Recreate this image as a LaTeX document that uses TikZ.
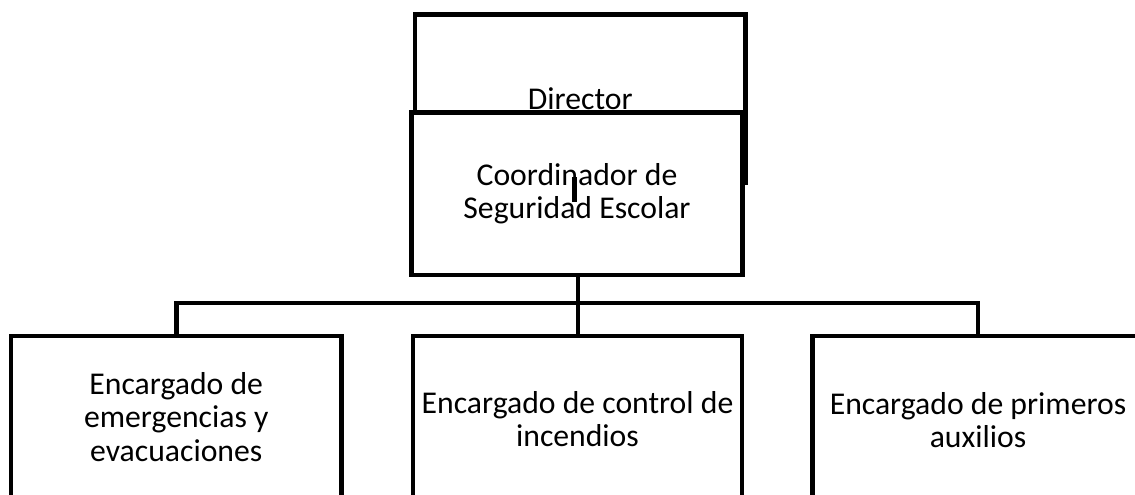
\documentclass[tikz,border=0pt]{standalone}
\usepackage{fontspec}
\setmainfont{Carlito}
\begin{document}
\begin{tikzpicture}[x=1pt,y=-1pt,
  box/.style={draw=black,line width=4.6pt,fill=white,rectangle,inner sep=0pt,align=center,
    font=\fontsize{31.7}{33.5}\selectfont},
  conn/.style={draw=black,line width=4.6pt}]
\useasboundingbox (0,0) rectangle (1135,495);
\clip (0,0) rectangle (1135,495);
\fill[white] (0,0) rectangle (1135,495);
% Director
\node[box,minimum width=330.5pt,minimum height=167.5pt] (dir) at (580.25,98.5) {Director};
% Coordinador
\node[box,minimum width=331pt,minimum height=162.5pt] (coo) at (577,193.75) {Coordinador de\\Seguridad Escolar};
% stray stub
\coordinate (s1) at (574,177);
\coordinate (s2) at (574,202);
\draw[conn,line width=5pt] (s1) -- (s2);
% bottom boxes
\node[box,minimum width=330.5pt,minimum height=162pt] (left) at (176.25,417) {Encargado de\\emergencias y\\evacuaciones};
\node[box,minimum width=329pt,minimum height=166pt] (mid) at (577.5,419) {Encargado de control de\\incendios};
\node[box,minimum width=331pt,minimum height=168pt] (right) at (978,420) {Encargado de primeros\\auxilios};
% connectors
\coordinate (bar) at (578,303);
\draw[conn] (coo.south -| bar) -- (bar) -- (bar |- mid.north);
\draw[conn] (left.north) |- (bar) -| (right.north);
\end{tikzpicture}
\end{document}
